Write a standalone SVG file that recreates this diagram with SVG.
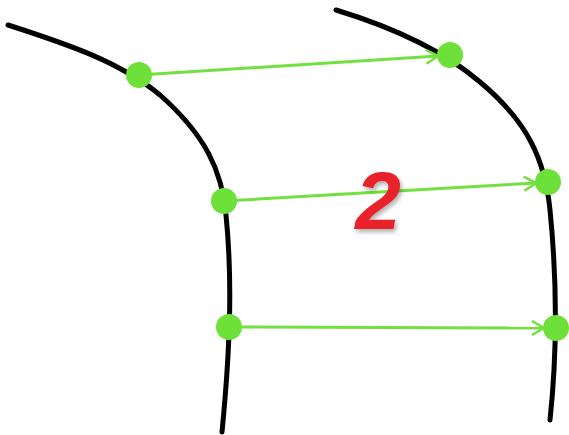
<svg xmlns="http://www.w3.org/2000/svg" width="569" height="435" viewBox="0 0 569 435">
<style>
.curve{fill:none;stroke:#000;stroke-width:5;stroke-linecap:round}
.arrow{fill:none;stroke:#72e03e;stroke-width:3}
.dot{fill:#6ee03a}
.label{font-family:"Liberation Sans",Arial,sans-serif;font-weight:bold;font-style:italic;font-size:82px;fill:#e8202a}
</style>
<defs>
<marker id="ah" markerWidth="16" markerHeight="16" refX="14" refY="8" orient="auto" markerUnits="userSpaceOnUse">
<path d="M2,1 L14,8 L2,15" fill="none" stroke="#72e03e" stroke-width="2.5"/>
</marker>
<filter id="sh" x="-20%" y="-20%" width="140%" height="140%">
<feDropShadow dx="2" dy="3" stdDeviation="2" flood-color="#000" flood-opacity="0.3"/>
</filter>
</defs>
<g id="curves">
<path id="left-curve" class="curve" d="M8,25 C70,45 120,62 160,95 C205,135 222,170 226,215 C232,275 231,340 222,432"/>
<path id="right-curve" class="curve" d="M336,10 C395,28 445,52 480,82 C528,122 545,160 550,210 C556,270 558,345 550,420"/>
</g>
<g id="connectors">
<line class="arrow" x1="139" y1="75" x2="438" y2="56" marker-end="url(#ah)"/>
<line class="arrow" x1="224" y1="201" x2="536" y2="183" marker-end="url(#ah)"/>
<line class="arrow" x1="229" y1="327" x2="544" y2="328" marker-end="url(#ah)"/>
</g>
<g id="dot-l1"><circle class="dot" cx="139" cy="75" r="13"/></g>
<g id="dot-l2"><circle class="dot" cx="224" cy="201" r="13"/></g>
<g id="dot-l3"><circle class="dot" cx="229" cy="327" r="13"/></g>
<g id="dot-r1"><circle class="dot" cx="450" cy="55" r="13"/></g>
<g id="dot-r2"><circle class="dot" cx="548" cy="182" r="13"/></g>
<g id="dot-r3"><circle class="dot" cx="556" cy="328" r="13"/></g>
<g id="label"><text class="label" x="378" y="229" text-anchor="middle" filter="url(#sh)">2</text></g>
</svg>
